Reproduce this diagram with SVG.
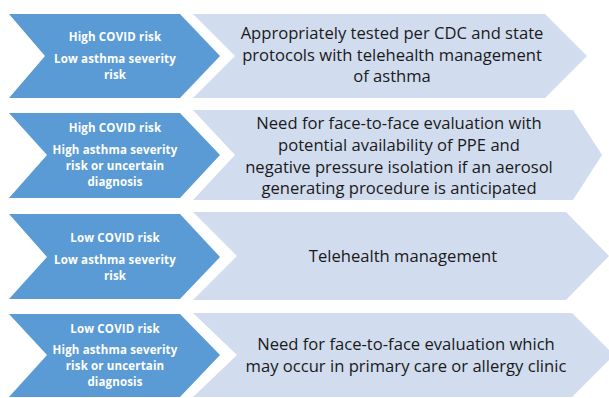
<svg xmlns="http://www.w3.org/2000/svg" width="609" height="398" viewBox="0 0 609 398">
<style>
.dark{fill:#5B9BD5}
.light{fill:#D1DCEE}
.lt{font-family:"Open Sans","Liberation Sans",sans-serif;font-weight:bold;font-size:11.5px;letter-spacing:0.15px;fill:#fff;text-anchor:middle}
.rt{font-family:"Open Sans","Liberation Sans",sans-serif;font-size:16.6px;fill:#1a1a1a;text-anchor:middle}
</style>
<rect width="609" height="398" fill="#fff"/>
<g id="row1">
<g id="n1a"><polygon class="dark" points="9,14 180,14 220,56 180,98 9,98 45,56"/>
<text class="lt" x="115" y="41">High COVID risk</text>
<text class="lt" x="115" y="63">Low asthma severity</text>
<text class="lt" x="115" y="79">risk</text></g>
<g id="n1b"><polygon class="light" points="193,14 545,14 587,56 545,98 193,98 235,56"/>
<text class="rt" x="392" y="39">Appropriately tested per CDC and state</text>
<text class="rt" x="392" y="61">protocols with telehealth management</text>
<text class="rt" x="392" y="82">of asthma</text></g>
</g>
<g id="row2">
<g id="n2a"><polygon class="dark" points="9,113 180,113 220,155 180,198 9,198 47,155"/>
<text class="lt" x="115" y="132">High COVID risk</text>
<text class="lt" x="115" y="154">High asthma severity</text>
<text class="lt" x="115" y="170">risk or uncertain</text>
<text class="lt" x="115" y="186">diagnosis</text></g>
<g id="n2b"><polygon class="light" points="193,110 573,110 602,155 573,200 193,200 235,155"/>
<text class="rt" x="399" y="129">Need for face-to-face evaluation with</text>
<text class="rt" x="399" y="151">potential availability of PPE and</text>
<text class="rt" x="399" y="173">negative pressure isolation if an aerosol</text>
<text class="rt" x="399" y="194">generating procedure is anticipated</text></g>
</g>
<g id="row3">
<g id="n3a"><polygon class="dark" points="9,214 180,214 220,257 180,299 9,299 47,257"/>
<text class="lt" x="115" y="242">Low COVID risk</text>
<text class="lt" x="115" y="264">Low asthma severity</text>
<text class="lt" x="115" y="280">risk</text></g>
<g id="n3b"><polygon class="light" points="193,212 566,212 609,256 566,300 193,300 237,256"/>
<text class="rt" x="403" y="262">Telehealth management</text></g>
</g>
<g id="row4">
<g id="n4a"><polygon class="dark" points="9,314 180,314 220,355 180,397 9,397 47,355"/>
<text class="lt" x="115" y="333">Low COVID risk</text>
<text class="lt" x="115" y="354">High asthma severity</text>
<text class="lt" x="115" y="370">risk or uncertain</text>
<text class="lt" x="115" y="386">diagnosis</text></g>
<g id="n4b"><polygon class="light" points="193,313 572,313 614,355 572,397 193,397 237,355"/>
<text class="rt" x="406" y="350">Need for face-to-face evaluation which</text>
<text class="rt" x="406" y="372">may occur in primary care or allergy clinic</text></g>
</g>
<g id="connectors"/>
</svg>
